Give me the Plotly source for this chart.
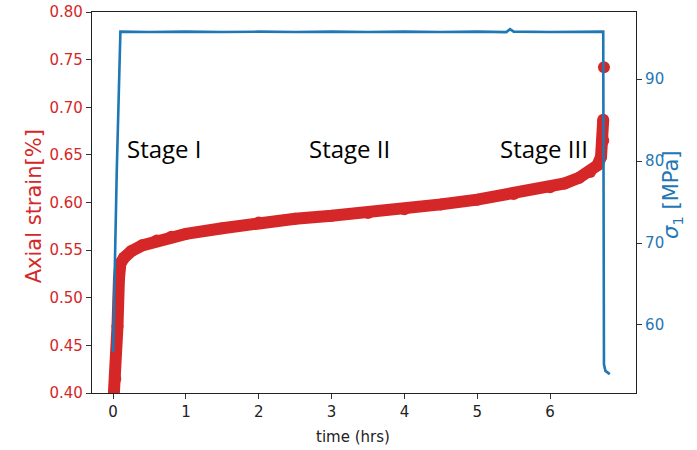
import plotly.graph_objects as go

# Axial strain record (red) – time in hours, strain in percent
strain_time = [0.00, 0.03, 0.06, 0.08, 0.10, 0.15, 0.25, 0.40, 0.60, 0.80, 1.00,
               1.50, 2.00, 2.50, 3.00, 3.50, 4.00, 4.50, 5.00, 5.50, 6.00,
               6.20, 6.40, 6.55, 6.65, 6.70, 6.73, 6.73]
strain_pct = [0.385, 0.415, 0.470, 0.520, 0.536, 0.542, 0.549, 0.555, 0.560, 0.564, 0.567,
              0.573, 0.579, 0.583, 0.586, 0.589, 0.593, 0.598, 0.603, 0.609, 0.616,
              0.620, 0.626, 0.632, 0.639, 0.648, 0.665, 0.687]
# isolated last reading at failure
strain_last_time = [6.74]
strain_last_pct = [0.742]

# Axial stress record (blue) – sigma_1 in MPa
stress_time = [0.00, 0.05, 0.10, 0.50, 1.00, 1.50, 2.00, 2.50, 3.00, 3.50, 4.00,
               4.50, 5.00, 5.40, 5.45, 5.50, 6.00, 6.50, 6.73, 6.74, 6.76, 6.82]
stress_mpa = [56.7, 78.8, 95.8, 95.75, 95.8, 95.75, 95.8, 95.75, 95.8, 95.75, 95.8,
              95.75, 95.8, 95.75, 96.1, 95.8, 95.75, 95.8, 95.8, 55.2, 54.4, 54.0]

x_ticks = [0, 1, 2, 3, 4, 5, 6]
strain_ticks = [0.40, 0.45, 0.50, 0.55, 0.60, 0.65, 0.70, 0.75, 0.80]
stress_ticks = [60, 70, 80, 90]

stage_labels = ["Stage I", "Stage II", "Stage III"]
stage_x = [0.16, 3.24, 6.55]
stage_anchor = ["left", "center", "right"]

RED = "#d62728"
BLUE = "#1f77b4"
TICK_FONT = "DejaVu Sans"

fig = go.Figure()

fig.add_trace(go.Scatter(
    x=strain_time, y=strain_pct, mode="lines+markers",
    line=dict(color=RED, width=12), marker=dict(color=RED, size=12),
    yaxis="y", showlegend=False))
fig.add_trace(go.Scatter(
    x=strain_last_time, y=strain_last_pct, mode="markers",
    marker=dict(color=RED, size=12), yaxis="y", showlegend=False))
fig.add_trace(go.Scatter(
    x=stress_time, y=stress_mpa, mode="lines",
    line=dict(color=BLUE, width=2.6), yaxis="y2", showlegend=False))

for label, sx, anchor in zip(stage_labels, stage_x, stage_anchor):
    fig.add_annotation(x=sx, y=0.657, xref="x", yref="y", text=label,
                       showarrow=False, xanchor=anchor, yanchor="middle",
                       font=dict(family="Open Sans", size=24, color="black"))

# axis titles
fig.add_annotation(x=3.3, y=0, xref="x", yref="paper", yshift=-44,
                   text="time (hrs)", showarrow=False, yanchor="middle",
                   font=dict(family=TICK_FONT, size=15, color="#222"))
fig.add_annotation(x=0, y=0.49, xref="paper", yref="paper", xshift=-72,
                   text="Axial strain[%]", textangle=-90, showarrow=False,
                   font=dict(family=TICK_FONT, size=21, color=RED))
fig.add_annotation(x=1, y=0.52, xref="paper", yref="paper", xshift=51,
                   text="<i>σ</i><sub>1</sub> [MPa]", textangle=-90, showarrow=False,
                   font=dict(family=TICK_FONT, size=21, color=BLUE))

axis_line = dict(showline=True, linecolor="#222", linewidth=1.2,
                 ticks="outside", ticklen=5, tickcolor="#333", tickwidth=1.2,
                 showgrid=False, zeroline=False, automargin=False)

fig.update_layout(
    width=697, height=450,
    margin=dict(l=92, r=61, t=12, b=57, autoexpand=False),
    paper_bgcolor="white", plot_bgcolor="white",
    xaxis=dict(range=[-0.29, 7.18], tickvals=x_ticks, mirror=True,
               tickfont=dict(family=TICK_FONT, size=15, color="#222"), **axis_line),
    yaxis=dict(range=[0.40, 0.80], tickvals=strain_ticks, tickformat=".2f",
               tickfont=dict(family=TICK_FONT, size=15, color=RED), **axis_line),
    yaxis2=dict(range=[51.7, 98.2], tickvals=stress_ticks, overlaying="y",
                side="right", tickfont=dict(family=TICK_FONT, size=15, color=BLUE),
                **axis_line),
)

fig.write_html("out.html")
